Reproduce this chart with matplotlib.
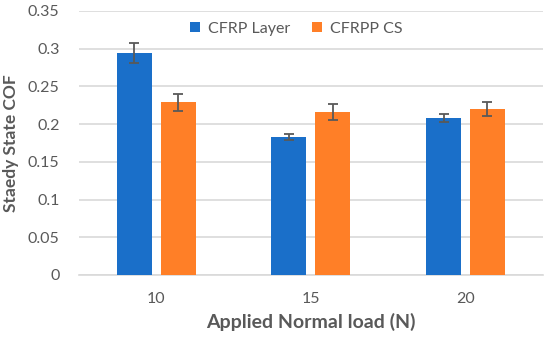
import numpy as np
import matplotlib.pyplot as plt

# Data
loads = ["10", "15", "20"]
cfrp_layer = [0.294, 0.183, 0.208]
cfrp_layer_err = [0.013, 0.004, 0.005]
cfrpp_cs = [0.229, 0.216, 0.220]
cfrpp_cs_err = [0.011, 0.011, 0.009]

plt.rcParams['font.family'] = ['Lato', 'DejaVu Sans']
grey = '#595959'

fig = plt.figure(figsize=(5.5, 3.42), dpi=100)
ax = fig.add_axes([0.1436, 0.196, 0.987 - 0.1436, 0.968 - 0.196])

x = np.arange(len(loads))
w = 0.226
off = 0.142
err_kw = dict(ecolor=grey, elinewidth=1.3, capsize=3.5, capthick=1.3)
ax.bar(x - off, cfrp_layer, w, yerr=cfrp_layer_err, color='#1a6fc9',
       label='CFRP Layer', error_kw=err_kw, zorder=3)
ax.bar(x + off, cfrpp_cs, w, yerr=cfrpp_cs_err, color='#ff7f27',
       label='CFRPP CS', error_kw=err_kw, zorder=3)

ax.set_xlim(-0.5, 2.5)
ax.set_ylim(0, 0.35)
ax.set_yticks(np.arange(0, 0.351, 0.05))
ax.set_yticklabels(['0', '0.05', '0.1', '0.15', '0.2', '0.25', '0.3', '0.35'])
ax.set_xticks(x)
ax.set_xticklabels(loads)
ax.yaxis.grid(True, color='#d9d9d9', linewidth=1.2, zorder=0)
ax.set_axisbelow(True)
for s in ['top', 'right', 'left']:
    ax.spines[s].set_visible(False)
ax.spines['bottom'].set_color('#d9d9d9')
ax.spines['bottom'].set_linewidth(1.2)
ax.tick_params(axis='both', length=0, labelsize=11.5, labelcolor=grey)
ax.tick_params(axis='y', pad=14)
ax.tick_params(axis='x', pad=12)

ax.set_xlabel('Applied Normal load (N)', fontsize=14, fontweight='bold',
              color=grey, labelpad=5)
ax.set_ylabel('Staedy State COF', fontsize=12.5, fontweight='bold',
              color=grey, labelpad=6)

ax.legend(loc='center', bbox_to_anchor=(0.468, 0.932), ncol=2, frameon=False,
          fontsize=11.5, labelcolor=grey, handlelength=0.6, handleheight=0.6,
          handletextpad=0.5, columnspacing=1.4)

fig.savefig('out.png', dpi=100)
